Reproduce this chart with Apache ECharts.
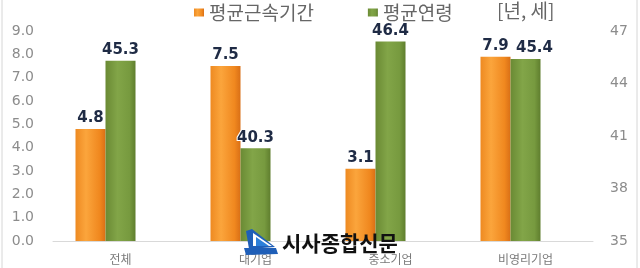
<!DOCTYPE html>
<html><head><meta charset="utf-8">
<script src="https://cdn.jsdelivr.net/npm/echarts@6/dist/echarts.min.js"></script>
<style>html,body{margin:0;padding:0;background:#fff}#c{width:640px;height:268px}</style>
</head><body><div id="c"></div>
<script>
const categories = ['전체', '대기업', '중소기업', '비영리기업'];
const tenure = [4.8, 7.5, 3.1, 7.9];      // 평균근속기간 (left axis)
const age = [45.3, 40.3, 46.4, 45.4];     // 평균연령 (right axis)
const leftTicks = [0, 1, 2, 3, 4, 5, 6, 7, 8, 9];
const rightTicks = [35, 38, 41, 44, 47];
const seriesNames = ['평균근속기간', '평균연령'];
const unitText = '[년, 세]';
const watermark = '시사종합신문';

const CJK = '"Noto Sans CJK KR", "Noto Sans", sans-serif';
const NUM = '"DejaVu Sans", Verdana, sans-serif';

const orangeFill = {type:'linear',x:0,y:0,x2:1,y2:0,colorStops:[
  {offset:0,color:'#EE8A22'},{offset:0.35,color:'#FBA53C'},{offset:0.8,color:'#F0881F'},{offset:1,color:'#D96F16'}]};
const greenFill = {type:'linear',x:0,y:0,x2:1,y2:0,colorStops:[
  {offset:0,color:'#6A8A34'},{offset:0.4,color:'#82A548'},{offset:0.8,color:'#779A3F'},{offset:1,color:'#5F7E2E'}]};

const labelStyle = {show:true, position:'top', distance:3, fontFamily:NUM, fontWeight:'bold',
  fontSize:15, color:'#1F2B45', textBorderColor:'#fff', textBorderWidth:2,
  formatter: p => p.value.toFixed(1)};

// the last green label sits slightly to the right in the original
const ageData = age.map((v, i) => i === age.length - 1 ? {value: v, label: {offset: [9, 0]}} : v);

const chart = echarts.init(document.getElementById('c'), null, {renderer:'canvas'});
chart.setOption({
  animation:false,
  backgroundColor:'#fff',
  legend:{
    data:seriesNames, left:189, top:-2, itemWidth:10, itemHeight:8, itemGap:54, z:50,
    icon:'rect', textStyle:{fontFamily:CJK, fontSize:19, color:'#666'}
  },
  grid:{left:53, right:47, top:31, bottom:27},
  xAxis:{
    type:'category', data:categories,
    axisLine:{lineStyle:{color:'#d9d9d9', width:1}},
    axisTick:{show:false},
    axisLabel:{fontFamily:CJK, fontSize:12, color:'#7a7a7a', margin:12}
  },
  yAxis:[
    {type:'value', min:0, max:9, interval:1, splitLine:{show:false},
     axisLine:{show:false}, axisTick:{show:false},
     axisLabel:{fontFamily:NUM, fontSize:14, color:'#8c8c8c', margin:19, formatter:v=>v.toFixed(1)}},
    {type:'value', min:35, max:47, splitLine:{show:false},
     axisLine:{show:false}, axisTick:{show:false},
     axisLabel:{fontFamily:NUM, fontSize:14, color:'#8c8c8c', margin:17, customValues:rightTicks}}
  ],
  series:[
    {name:seriesNames[0], type:'bar', yAxisIndex:0, data:tenure, barWidth:30, barGap:'0%',
     itemStyle:{color:orangeFill}, label:labelStyle},
    {name:seriesNames[1], type:'bar', yAxisIndex:1, data:ageData, barWidth:30, barGap:'0%',
     itemStyle:{color:greenFill}, label:labelStyle},
    {name:'_spacer', type:'bar', yAxisIndex:0, data:categories.map(()=>null), barWidth:30, barGap:'0%',
     itemStyle:{color:'transparent'}, silent:true}
  ],
  graphic:[
    {type:'text', x:497, y:11, z:100, style:{text:unitText, fontFamily:CJK, fontSize:19, fill:'#666', verticalAlign:'middle'}},
    {type:'line', z:100, shape:{x1:2,y1:0,x2:2,y2:268}, style:{stroke:'#d6d6d6', lineWidth:1}},
    {type:'line', z:100, shape:{x1:637,y1:0,x2:637,y2:268}, style:{stroke:'#d6d6d6', lineWidth:1}},
    {type:'polygon', z:100, shape:{points:[[246,231],[252,229],[275,247],[249,249]]}, style:{fill:'#1F5FB8'}},
    {type:'polygon', z:101, shape:{points:[[253,233],[272,246],[253,246]]}, style:{fill:'#ffffff'}},
    {type:'polygon', z:102, shape:{points:[[256,237],[269,246],[256,246]]}, style:{fill:'#2C7FD9'}},
    {type:'polygon', z:100, shape:{points:[[244,248],[276,248],[278,254],[246,255]]}, style:{fill:'#1F5FB8'}},
    {type:'text', z:100, x:282, y:243, style:{text:watermark, fontFamily:CJK, fontWeight:'bold', fontSize:21, fill:'#111', verticalAlign:'middle'}}
  ]
});
</script></body></html>
